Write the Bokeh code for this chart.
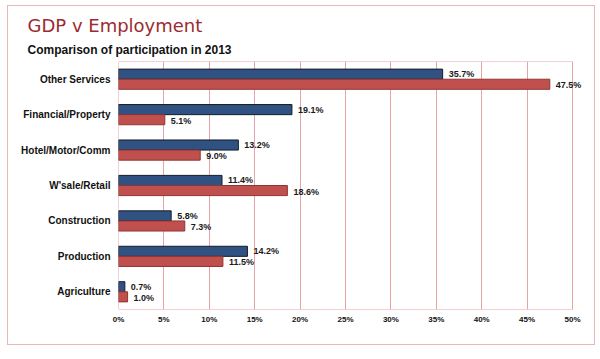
from bokeh.plotting import figure
from bokeh.models import ColumnDataSource, FactorRange, LabelSet, Title, FixedTicker, CustomJSTickFormatter
from bokeh.core.properties import value
from bokeh.transform import dodge
from bokeh.embed import file_html
from bokeh.resources import INLINE

categories = ["Other Services", "Financial/Property", "Hotel/Motor/Comm", "W'sale/Retail",
              "Construction", "Production", "Agriculture"]
gdp = [35.7, 19.1, 13.2, 11.4, 5.8, 14.2, 0.7]
employment = [47.5, 5.1, 9.0, 18.6, 7.3, 11.5, 1.0]
x_ticks = [0, 5, 10, 15, 20, 25, 30, 35, 40, 45, 50]

src = ColumnDataSource(dict(
    cat=categories,
    gdp=gdp,
    emp=employment,
    gdp_lbl=[f"{v:.1f}%" for v in gdp],
    emp_lbl=[f"{v:.1f}%" for v in employment],
))

yr = FactorRange(factors=list(reversed(categories)), range_padding=0)

x_max = x_ticks[-1]
extra_px = 20
frame_px = 454 + extra_px
x_end = x_max * frame_px / 454

p = figure(width=588, height=340, y_range=yr, x_range=(0, x_end),
           output_backend="svg", toolbar_location=None,
           min_border_left=110, min_border_right=24 - extra_px, min_border_top=55, min_border_bottom=37)
p.styles = {"border": "1px solid #EBB7B7", "margin-left": "7px", "margin-top": "5px"}
p.outline_line_color = None

# visible plot-area frame from 0 to last tick
frame_src = ColumnDataSource(dict(bot=[categories[-1]], top=[categories[0]]))
p.quad(left=0, right=x_max, bottom=dodge("bot", -0.5, range=yr), top=dodge("top", 0.5, range=yr),
       source=frame_src, fill_color=None, line_color="#E6A3A8", line_width=1)

bh = 0.285
p.hbar(y=dodge("cat", bh / 2, range=yr), right="gdp", left=0, height=bh, source=src,
       fill_color="#2F5282", line_color="#141C2A", line_width=1)
p.hbar(y=dodge("cat", -bh / 2, range=yr), right="emp", left=0, height=bh, source=src,
       fill_color="#C0504D", line_color="#8E3634", line_width=1)

common = dict(text_font=value("Liberation Sans"), text_font_size=value("9px"),
              text_font_style="bold", text_color="#1a1a1a", text_baseline="middle", x_offset=6)
p.add_layout(LabelSet(x="gdp", y=dodge("cat", bh / 2, range=yr), text="gdp_lbl", source=src, **common))
p.add_layout(LabelSet(x="emp", y=dodge("cat", -bh / 2, range=yr), text="emp_lbl", source=src,
                      y_offset=-1, **common))

p.xaxis.ticker = FixedTicker(ticks=x_ticks)
p.xaxis.formatter = CustomJSTickFormatter(code="return tick + '%';")

for ax in (p.xaxis[0], p.yaxis[0]):
    ax.axis_line_color = None
    ax.major_tick_line_color = None
    ax.minor_tick_line_color = None
    ax.major_tick_out = 0
    ax.major_tick_in = 0
    ax.minor_tick_out = 0
    ax.major_label_text_font = "Liberation Sans"
    ax.major_label_text_font_style = "bold"
    ax.major_label_text_color = "#111111"

p.xaxis.major_label_text_font_size = "8px"
p.xaxis.major_label_standoff = 5
p.yaxis.major_label_text_font_size = "10px"
p.yaxis.major_label_standoff = 8

p.xgrid.grid_line_color = "#E6A3A8"
p.xgrid.grid_line_width = 1
p.ygrid.grid_line_color = None
p.background_fill_color = "white"
p.border_fill_color = "white"

p.add_layout(Title(text="Comparison of participation in 2013", align="left", offset=-91,
                   text_font="Liberation Sans", text_font_size="12px", text_font_style="bold",
                   text_color="#111111", standoff=10, text_line_height=0.6), "above")
p.add_layout(Title(text="GDP v Employment", align="left", offset=-91,
                   text_font="DejaVu Sans", text_font_size="18px", text_font_style="normal",
                   text_color="#9C2B2F", standoff=0), "above")

open("out.html", "w").write(file_html(p, INLINE))
